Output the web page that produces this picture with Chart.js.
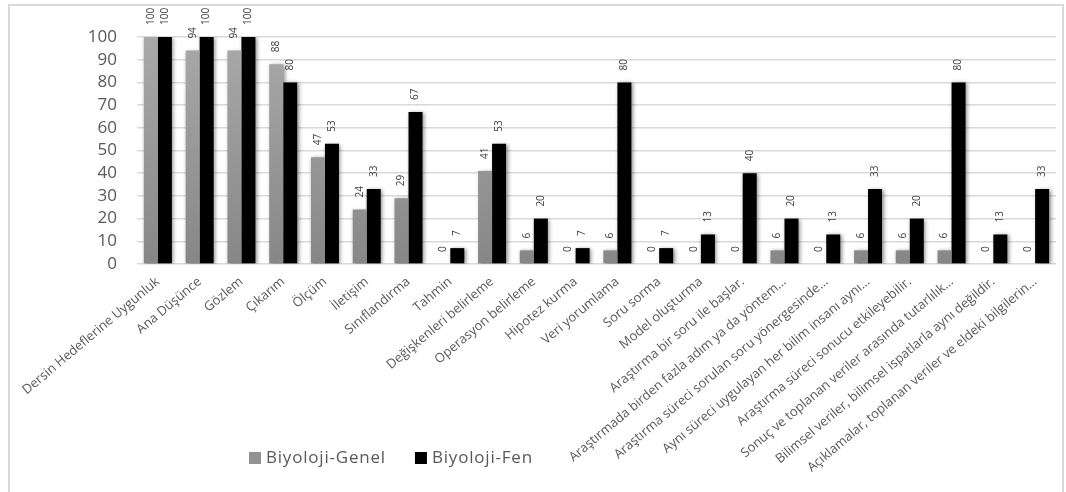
<!DOCTYPE html>
<html>
<head>
<meta charset="utf-8">
<style>
  html, body { margin: 0; padding: 0; background: #ffffff; }
  #wrap { position: relative; width: 1066px; height: 492px; }
</style>
<script src="https://cdn.jsdelivr.net/npm/chart.js@4/dist/chart.umd.min.js"></script>
</head>
<body>
<div id="wrap"><canvas id="chart" width="1066" height="492"></canvas></div>
<script>
// Kategoriler (kazanım / ifade)
const categories = [
  "Dersin Hedeflerine Uygunluk",
  "Ana Düşünce",
  "Gözlem",
  "Çıkarım",
  "Ölçüm",
  "İletişim",
  "Sınıflandırma",
  "Tahmin",
  "Değişkenleri belirleme",
  "Operasyon belirleme",
  "Hipotez kurma",
  "Veri yorumlama",
  "Soru sorma",
  "Model oluşturma",
  "Araştırma bir soru ile başlar.",
  "Araştırmada birden fazla adım ya da yöntem…",
  "Araştırma süreci sorulan soru yönergesinde…",
  "Aynı süreci uygulayan her bilim insanı aynı…",
  "Araştırma süreci sonucu etkileyebilir.",
  "Sonuç ve toplanan veriler arasında tutarlılık…",
  "Bilimsel veriler, bilimsel ispatlarla aynı değildir.",
  "Açıklamalar, toplanan veriler ve eldeki bilgilerin…"
];

const seriesNames = ["Biyoloji-Genel", "Biyoloji-Fen"];

const genelValues = [100, 94, 94, 88, 47, 24, 29, 0, 41, 6, 0, 6, 0, 0, 0, 6, 0, 6, 6, 6, 0, 0];
const fenValues   = [100, 100, 100, 80, 53, 33, 67, 7, 53, 20, 7, 80, 7, 13, 40, 20, 13, 33, 20, 80, 13, 33];

const yTicks = [0, 10, 20, 30, 40, 50, 60, 70, 80, 90, 100];

const FONT = "'Open Sans', 'DejaVu Sans', sans-serif";
const TEXT = "#595959";

// gray series: soft vertical gradient
function grayFill(ctx) {
  const chart = ctx.chart;
  const area = chart.chartArea;
  if (!area) return "#9a9a9a";
  const g = chart.ctx.createLinearGradient(0, area.top, 0, area.bottom);
  g.addColorStop(0, "#a9a9a9");
  g.addColorStop(1, "#878787");
  return g;
}

// outer frame around the chart
const framePlugin = {
  id: "frame",
  beforeDraw(chart) {
    const c = chart.ctx;
    c.save();
    c.fillStyle = "#ffffff";
    c.fillRect(0, 0, chart.width, chart.height);
    c.strokeStyle = "#d9d9d9";
    c.lineWidth = 2;
    c.strokeRect(9, 5, 1054, 520);
    c.restore();
  }
};

// drop shadow under the bars
const shadowPlugin = {
  id: "barShadow",
  beforeDatasetDraw(chart) {
    const c = chart.ctx;
    c.save();
    c.shadowColor = "rgba(0,0,0,0.45)";
    c.shadowBlur = 4;
    c.shadowOffsetX = 1.5;
    c.shadowOffsetY = 1;
  },
  afterDatasetDraw(chart) {
    chart.ctx.restore();
  }
};

// vertical value labels above each bar
const valueLabelPlugin = {
  id: "valueLabels",
  afterDatasetsDraw(chart) {
    const c = chart.ctx;
    c.save();
    c.font = "10px " + FONT;
    c.fillStyle = "#404040";
    c.textAlign = "left";
    c.textBaseline = "middle";
    chart.data.datasets.forEach((ds, di) => {
      const meta = chart.getDatasetMeta(di);
      meta.data.forEach((bar, i) => {
        c.save();
        c.translate(bar.x, bar.y - 12);
        c.rotate(-Math.PI / 2);
        c.fillText(String(ds.data[i]), 0, 0);
        c.restore();
      });
    });
    c.restore();
  }
};

// legend row under the axis labels
const legendPlugin = {
  id: "bottomLegend",
  afterDraw(chart) {
    const c = chart.ctx;
    c.save();
    c.font = "17px " + FONT;
    c.textBaseline = "middle";
    c.textAlign = "left";
    if ("letterSpacing" in c) c.letterSpacing = "0.8px";
    let x = 249;
    const y = 458;
    chart.data.datasets.forEach((ds) => {
      c.fillStyle = ds.legendColor;
      c.fillRect(x, y - 6, 12, 12);
      c.fillStyle = TEXT;
      c.fillText(ds.label, x + 17, y);
      x += 17 + c.measureText(ds.label).width + 29;
    });
    c.restore();
  }
};

new Chart(document.getElementById("chart"), {
  type: "bar",
  data: {
    labels: categories,
    datasets: [
      {
        label: seriesNames[0],
        data: genelValues,
        backgroundColor: grayFill,
        legendColor: "#939393",
        borderWidth: 0,
        categoryPercentage: 0.67,
        barPercentage: 1.0
      },
      {
        label: seriesNames[1],
        data: fenValues,
        backgroundColor: "#000000",
        legendColor: "#000000",
        borderWidth: 0,
        categoryPercentage: 0.67,
        barPercentage: 1.0
      }
    ]
  },
  options: {
    responsive: false,
    animation: false,
    devicePixelRatio: 1,
    layout: { padding: { top: 37, right: 10, left: 0, bottom: 0 } },
    plugins: {
      legend: { display: false },
      tooltip: { enabled: false }
    },
    scales: {
      x: {
        grid: { display: false, drawTicks: false },
        border: { display: false },
        ticks: {
          autoSkip: false,
          minRotation: 40,
          maxRotation: 40,
          padding: 10,
          color: TEXT,
          font: { family: FONT, size: 13 }
        },
        afterFit(s) {
          s.height = 492 - 264;
          s.paddingLeft = 0;
          s.paddingRight = 0;
        }
      },
      y: {
        min: 0,
        max: 100,
        afterBuildTicks(s) {
          s.ticks = yTicks.map(v => ({ value: v }));
        },
        grid: { color: "#d9d9d9", lineWidth: 1.5, drawTicks: false },
        border: { display: false },
        ticks: {
          autoSkip: false,
          stepSize: 10,
          padding: 20,
          color: TEXT,
          font: { family: FONT, size: 17 }
        },
        afterFit(s) {
          s.width = 137;
        }
      }
    }
  },
  plugins: [framePlugin, shadowPlugin, valueLabelPlugin, legendPlugin]
});
</script>
</body>
</html>
